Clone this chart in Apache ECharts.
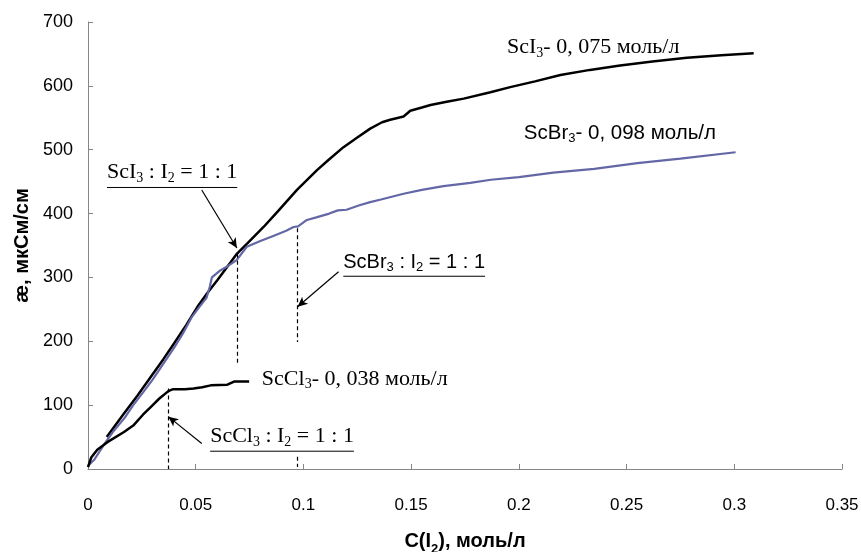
<!DOCTYPE html>
<html>
<head>
<meta charset="utf-8">
<script src="https://cdn.jsdelivr.net/npm/echarts@6/dist/echarts.min.js"></script>
<style>
  html, body { margin: 0; padding: 0; background: #fff; }
  #main { width: 861px; height: 552px; }
</style>
</head>
<body>
<div id="main"></div>
<script>
// данные кривых: [C(I2), моль/л ; æ, мкСм/см]
var scI3 = [
    [0.0087, 50], [0.0167, 87], [0.023, 115], [0.0291, 144], [0.035, 172], [0.04, 197],
    [0.0455, 225], [0.0508, 254], [0.0555, 276], [0.0601, 296], [0.0663, 324], [0.0691, 337],
    [0.075, 357], [0.0815, 379], [0.088, 403], [0.097, 437], [0.1063, 468], [0.112, 485],
    [0.1186, 504], [0.125, 519], [0.131, 533], [0.1365, 543], [0.1403, 547], [0.1465, 552],
    [0.1496, 561], [0.155, 566], [0.159, 570], [0.1665, 575], [0.1744, 580], [0.1868, 590],
    [0.196, 598], [0.2075, 607], [0.2193, 617], [0.233, 625], [0.247, 632], [0.262, 638],
    [0.278, 644], [0.294, 648], [0.309, 651]
];
var scBr3 = [
    [0, 5], [0.003, 15], [0.0074, 38], [0.012, 60], [0.017, 80], [0.021, 100], [0.026, 122],
    [0.03, 140], [0.035, 165], [0.04, 190], [0.044, 212], [0.048, 237], [0.052, 255],
    [0.055, 268], [0.0565, 285], [0.0575, 300], [0.061, 310], [0.065, 318], [0.069, 327],
    [0.0737, 348], [0.08, 357], [0.086, 365], [0.092, 373], [0.0954, 379], [0.0975, 380],
    [0.1016, 390], [0.106, 394], [0.112, 400], [0.116, 405], [0.12, 406], [0.126, 413],
    [0.131, 418], [0.136, 422], [0.1465, 431], [0.155, 437], [0.165, 443], [0.1775, 448],
    [0.187, 453], [0.2, 457], [0.216, 464], [0.235, 470], [0.255, 479], [0.275, 486], [0.3006, 496]
];
var scCl3 = [
    [0, 3], [0.0015, 18], [0.0043, 30], [0.009, 42], [0.0167, 58], [0.021, 68], [0.0255, 85],
    [0.0291, 97], [0.033, 110], [0.0373, 122], [0.0395, 125], [0.045, 125], [0.049, 126],
    [0.053, 128], [0.057, 131], [0.0647, 132], [0.0678, 137], [0.0748, 137]
];

// точки эквивалентности (пунктир) и стрелки
var dashLines = [
    [[0.0691, 337], [0.0691, 163]],
    [[0.0973, 377], [0.0973, 199]],
    [[0.0973, 19], [0.0973, 3]],
    [[0.0373, 126], [0.0373, 0]]
];
var arrows = [
    [[0.0528, 437], [0.0691, 346]],
    [[0.1163, 309], [0.0973, 254]],
    [[0.0528, 40], [0.0373, 82]]
];

var SERIF = '"Liberation Serif", "Times New Roman", serif';
var SANS = '"Liberation Sans", Arial, sans-serif';

var chart = echarts.init(document.getElementById('main'));

function lineSeries (name, data, color, width) {
    return {
        name: name,
        type: 'line',
        data: data,
        showSymbol: false,
        symbol: 'none',
        lineStyle: { color: color, width: width },
        itemStyle: { color: color },
        z: 3
    };
}

var option = {
    animation: false,
    backgroundColor: '#fff',
    grid: { left: 88, right: 19, top: 22, bottom: 83, outerBoundsMode: 'none' },
    xAxis: {
        type: 'value',
        min: 0, max: 0.35, interval: 0.05,
        name: 'C(I{s|2}), моль/л',
        nameLocation: 'middle',
        nameGap: 62,
        nameTextStyle: {
            fontFamily: SANS, fontSize: 20, fontWeight: 'bold', color: '#000',
            rich: {
                s: { fontFamily: SANS, fontSize: 13, fontWeight: 'bold', color: '#000', verticalAlign: 'bottom', lineHeight: 14, padding: [0, 0, -5, 0] }
            }
        },
        axisLine: { lineStyle: { color: '#868686', width: 1 } },
        axisTick: { inside: true, length: 5, lineStyle: { color: '#868686' } },
        axisLabel: { margin: 28, fontFamily: SANS, fontSize: 17, color: '#000' },
        splitLine: { show: false }
    },
    yAxis: {
        type: 'value',
        min: 0, max: 700, interval: 100,
        name: 'æ, мкСм/см',
        nameLocation: 'middle',
        nameGap: 52,
        nameTextStyle: { fontFamily: SANS, fontSize: 20, fontWeight: 'bold', color: '#000' },
        axisLine: { show: true, lineStyle: { color: '#868686', width: 1 } },
        axisTick: { show: true, inside: true, length: 5, lineStyle: { color: '#868686' } },
        axisLabel: { margin: 15, fontFamily: SANS, fontSize: 18, color: '#000' },
        splitLine: { show: false }
    },
    series: [
        lineSeries('ScI3', scI3, '#000', 2.5),
        lineSeries('ScBr3', scBr3, '#6467a6', 2.2),
        lineSeries('ScCl3', scCl3, '#000', 2.5),
        {
            type: 'line',
            data: [],
            markLine: {
                silent: true,
                symbol: ['none', 'none'],
                label: { show: false },
                lineStyle: { color: '#000', type: [4, 3], width: 1.2 },
                data: dashLines.map(function (l) {
                    return [{ coord: l[0] }, { coord: l[1] }];
                })
            }
        },
        {
            type: 'line',
            data: [],
            markLine: {
                silent: true,
                symbol: ['none', 'arrow'],
                symbolSize: [7, 10],
                label: { show: false },
                lineStyle: { color: '#000', type: 'solid', width: 1.2 },
                data: arrows.map(function (l) {
                    return [{ coord: l[0] }, { coord: l[1] }];
                })
            }
        }
    ]
};
chart.setOption(option);

// подписи: левый край и базовая линия в координатах данных
var labels = [
    { parts: [['ScI', 'n'], ['3', 's'], [' : I', 'n'], ['2', 's'], [' = 1 : 1', 'n']], at: [0.0088, 444], font: SERIF, size: 22, underline: true },
    { parts: [['ScBr', 'n'], ['3', 's'], [' : I', 'n'], ['2', 's'], [' = 1 : 1', 'n']], at: [0.1185, 305], font: SANS, size: 20, underline: true },
    { parts: [['ScCl', 'n'], ['3', 's'], [' : I', 'n'], ['2', 's'], [' = 1 : 1', 'n']], at: [0.0567, 31], font: SERIF, size: 22, underline: true },
    { parts: [['ScI', 'n'], ['3', 's'], ['- 0, 075 моль/л', 'n']], at: [0.1945, 640], font: SERIF, size: 22, underline: false },
    { parts: [['ScBr', 'n'], ['3', 's'], ['- 0, 098 моль/л', 'n']], at: [0.2023, 507], font: SANS, size: 20.5, underline: false },
    { parts: [['ScCl', 'n'], ['3', 's'], ['- 0, 038 моль/л', 'n']], at: [0.0807, 121], font: SERIF, size: 22, underline: false }
];

var SUB = 0.64;
var measure = document.createElement('canvas').getContext('2d');
var graphics = [];
labels.forEach(function (lb) {
    var p = chart.convertToPixel({ gridIndex: 0 }, lb.at);
    var subSize = Math.round(lb.size * SUB);
    var text = lb.parts.map(function (t) { return '{' + t[1] + '|' + t[0] + '}'; }).join('');
    graphics.push({
        type: 'text',
        x: p[0],
        y: p[1],
        style: {
            text: text,
            textVerticalAlign: 'bottom',
            rich: {
                n: { fontFamily: lb.font, fontSize: lb.size, lineHeight: lb.size + 4, fill: '#000' },
                s: { fontFamily: lb.font, fontSize: subSize, lineHeight: subSize, fill: '#000', verticalAlign: 'bottom' }
            }
        },
        z: 10
    });
    if (lb.underline) {
        // подчёркивание по ширине текста
        var width = 0;
        lb.parts.forEach(function (t) {
            measure.font = (t[1] === 's' ? subSize : lb.size) + 'px ' + lb.font;
            width += measure.measureText(t[0]).width;
        });
        graphics.push({
            type: 'line',
            shape: { x1: p[0], y1: p[1] + 2, x2: p[0] + width, y2: p[1] + 2 },
            style: { stroke: '#000', lineWidth: 1 },
            z: 10
        });
    }
});
chart.setOption({ graphic: graphics });
</script>
</body>
</html>
